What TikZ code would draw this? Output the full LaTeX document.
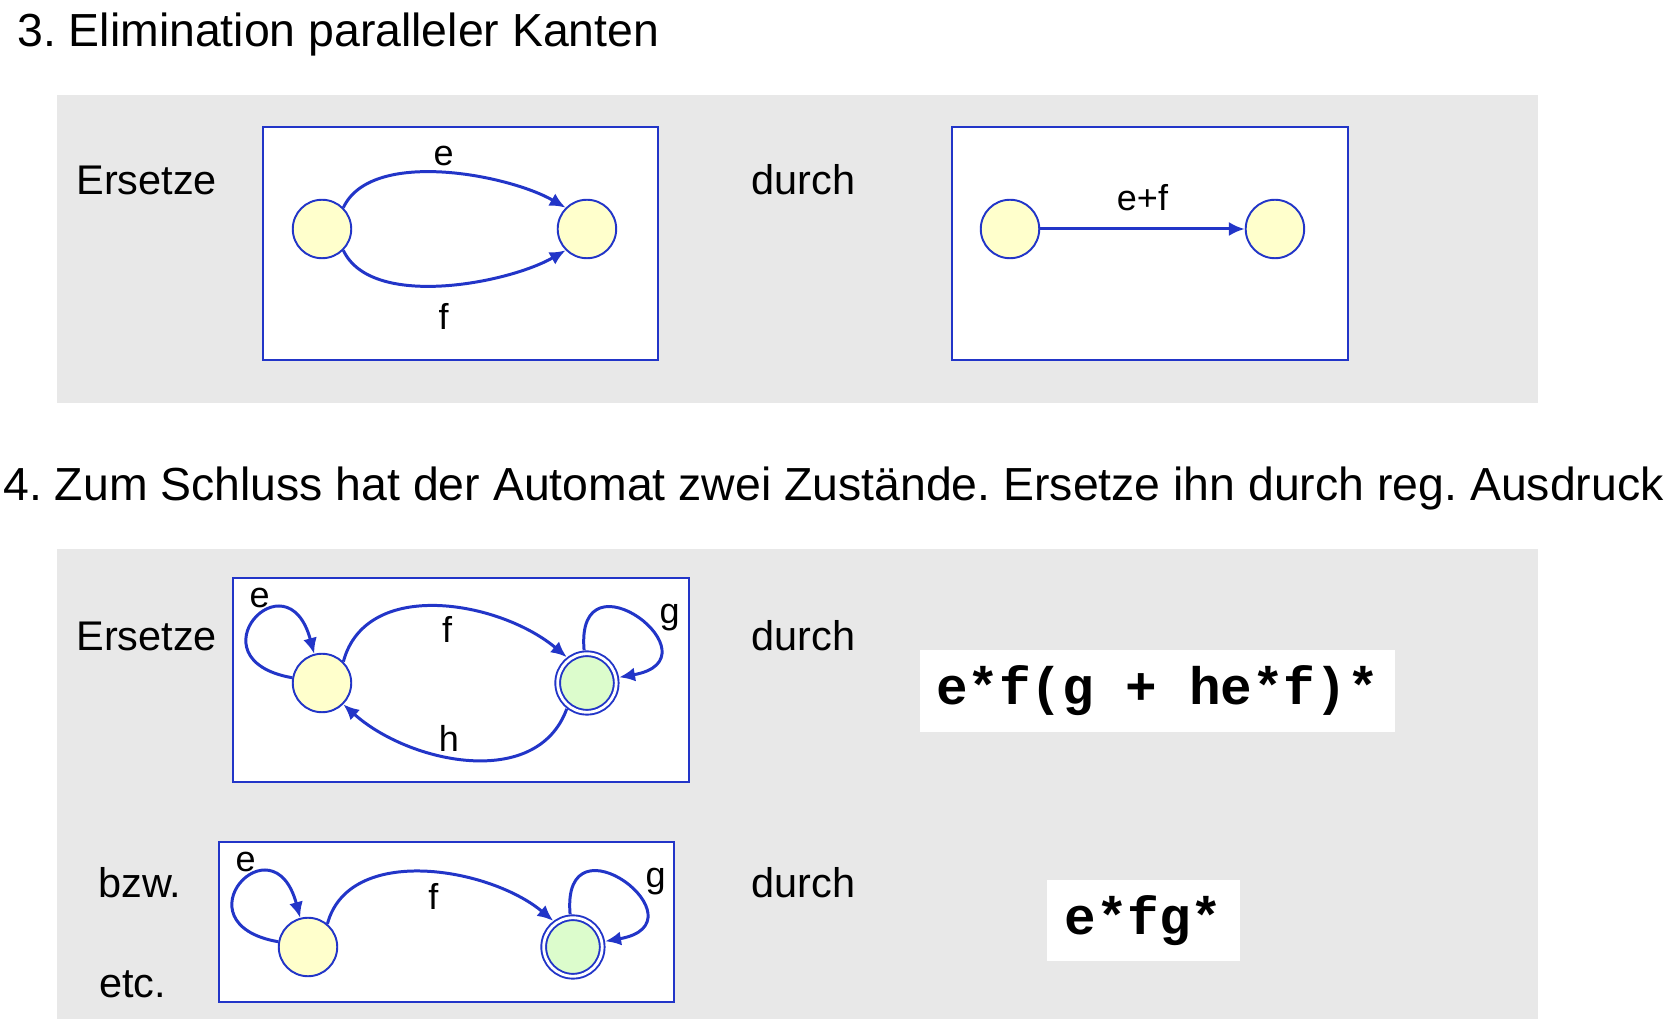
\documentclass[tikz,border=0pt]{standalone}
\usepackage{fontspec}
\setmainfont{Liberation Sans}
\newfontfamily\codefont{Liberation Mono}
\usetikzlibrary{automata,arrows.meta,positioning}
\frenchspacing

\definecolor{panelgray}{HTML}{E8E8E8}
\definecolor{lineblue}{HTML}{2235C8}
\definecolor{stateyellow}{HTML}{FFFFCC}
\definecolor{stategreen}{HTML}{DCFCCC}

\tikzset{
  every state/.style={draw=lineblue, line width=1.1pt, fill=stateyellow,
    minimum size=1.17cm, inner sep=0pt},
  final/.style={fill=stategreen, double=white, double distance=1.6pt, outer sep=2pt},
  every edge/.style={draw=lineblue},
  trans/.style={->, line width=1.7pt},
  lbl/.style={font=\fontsize{20.5}{24}\selectfont, inner sep=1pt},
  frame/.style={draw=lineblue, line width=1.1pt, fill=white},
  panel/.style={fill=panelgray},
  txt/.style={anchor=base west, inner sep=0pt, font=\fontsize{23.6}{28}\selectfont},
  heading/.style={anchor=base west, inner sep=0pt, font=\fontsize{26.4}{31}\selectfont},
  codebox/.style={fill=white, inner sep=0pt, font=\codefont\bfseries\fontsize{30}{34}\selectfont}
}

\begin{document}
\begin{tikzpicture}[x=0.02cm, y=-0.02cm, node distance=5.3cm, on grid,
    >={Latex[length=9pt,width=8pt]}]
    \useasboundingbox (0,0) rectangle (1678,1026);
    % headings
    \node[heading] (t3) at (17,47) {3. Elimination paralleler Kanten};
    \node[heading] (t4) at (3,501) {4. Zum Schluss hat der Automat zwei Zustände. Ersetze ihn durch reg. Ausdruck};
    % grey panels and frames
    \fill[panel] (57,95) rectangle (1538,403);
    \fill[panel] (57,549) rectangle (1538,1019);
    \draw[frame] (263,127) rectangle (658,360);
    \draw[frame] (952,127) rectangle (1348,360);
    \draw[frame] (233,578) rectangle (689,782);
    \draw[frame] (219,842) rectangle (674,1002);
    % texts
    \node[txt] (ers1) at (76,195) {Ersetze};
    \node[txt] (dur1) at (751,195) {durch};
    \node[txt] (ers2) at (76,651) {Ersetze};
    \node[txt] (dur2) at (751,651) {durch};
    \node[txt] (bzw) at (98,898) {bzw.};
    \node[txt] (dur3) at (751,898) {durch};
    \node[txt] (etc) at (99,997) {etc.};
    \node[codebox, minimum width=9.5cm, minimum height=1.64cm] (rx1) at (1157.5,691) {e*f(g + he*f)*};
    \node[codebox, minimum width=3.86cm, minimum height=1.62cm] (rx2) at (1143.5,920.5) {e*fg*};
    % states
    \node[state] (a0) at (322,229) {};
    \node[state, right of = a0] (a1) {};
    \node[state] (b0) at (1010,229) {};
    \node[state, right of = b0] (b1) {};
    \node[state] (c0) at (322,683) {};
    \node[state, final, right of = c0] (c1) {};
    \node[state] (d0) at (308,947) {};
    \node[state, final, right of = d0] (d1) {};
    % transitions
    \path[trans] (a0.45) edge[out=65, in=150, looseness=0.76] node[lbl, above=2pt] (ae) {e} (a1.135);
    \path[trans] (a0.-45) edge[out=-65, in=-150, looseness=0.76] node[lbl, below=8.4pt] (af) {f} (a1.-135);
    \path[trans] (b0) edge node[lbl, above=8.5pt] (bef) {e+f} (b1);
    \path[trans] (c0) edge[out=170, in=105, distance=2.1cm] node[lbl, pos=0.6, above=1pt, xshift=-3pt] (ce) {e} (c0);
    \path[trans] (c0.45) edge[out=75, in=140, looseness=1] node[lbl, below=4pt, xshift=5pt] (cf) {f} (c1.128);
    \path[trans] (c1) edge[out=95, in=10, distance=2.1cm] node[lbl, pos=0.5, right=11pt] (cg) {g} (c1);
    \path[trans] (c1.-128) edge[out=-110, in=-42, looseness=1] node[lbl, above=2.4pt, xshift=-11pt] (ch) {h} (c0.-45);
    \path[trans] (d0) edge[out=170, in=105, distance=2.1cm] node[lbl, pos=0.6, above=1pt, xshift=-3pt] (de) {e} (d0);
    \path[trans] (d0.50) edge[out=75, in=140, looseness=0.94] node[lbl, below=4.5pt, xshift=5pt] (df) {f} (d1.127);
    \path[trans] (d1) edge[out=95, in=10, distance=2.1cm] node[lbl, pos=0.5, right=11pt] (dg) {g} (d1);
\end{tikzpicture}
\end{document}
